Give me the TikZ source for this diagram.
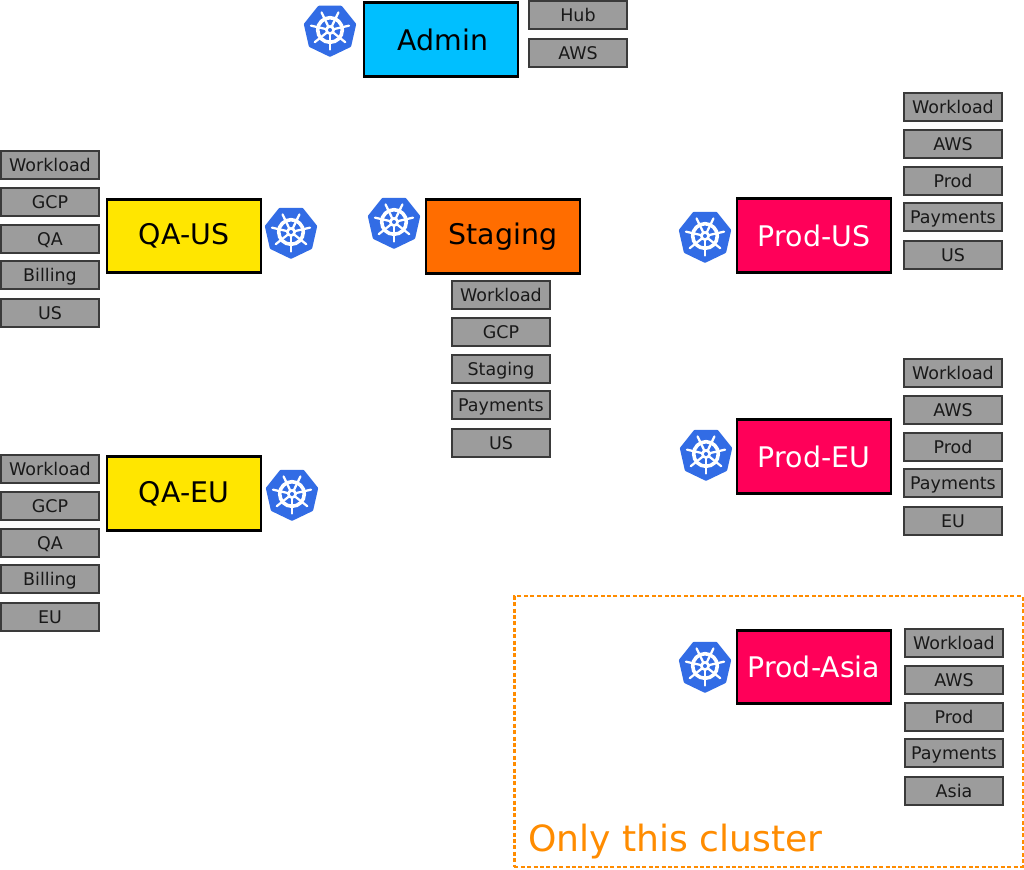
\documentclass[tikz,border=0pt]{standalone}
\usepackage{fontspec}
\setmainfont{DejaVu Sans}
\definecolor{kblue}{HTML}{326CE5}
\definecolor{cadmin}{HTML}{00BFFF}
\definecolor{cqa}{HTML}{FFE600}
\definecolor{cstg}{HTML}{FF6D00}
\definecolor{cprod}{HTML}{FF0059}
\definecolor{ctag}{HTML}{9C9C9C}
\definecolor{ctagb}{HTML}{3A3A3A}
\definecolor{cdash}{HTML}{FF8C00}
\newcommand{\helm}[3]{%
\begin{scope}[shift={(#1,#2)}]
\fill[kblue,draw=kblue,line width=2.6pt,line join=round]
 (90:25) -- (141.4:25) -- (192.9:25) -- (244.3:25) -- (295.7:25) -- (347.1:25) -- (38.6:25) -- cycle;
\draw[white,line width=2.7pt] (0,0) circle[radius=12.3];
\foreach \a in {90,141.4,192.9,244.3,295.7,347.1,38.6}{
 \draw[white,line width=1.7pt,line cap=round] (\a:3) -- (\a:19.5);
}
\fill[white] (0,0) circle[radius=5];
\fill[kblue] (0,0) circle[radius=2];
\coordinate (#3) at (0,0);
\end{scope}}
\tikzset{
 x=0.75pt,y=-0.75pt,
 bigbox/.style={draw=black,line width=2.1pt,minimum width=115.6pt,minimum height=55.2pt,inner sep=0pt,font=\fontsize{21.3pt}{25pt}\selectfont},
 tagbox/.style={draw=ctagb,fill=ctag,line width=1pt,minimum width=73.5pt,minimum height=21pt,inner sep=0pt,text=black!90,font=\fontsize{13.1pt}{16pt}\selectfont,text height=10pt,text depth=0.6pt},
}
\newcommand{\tags}[7]{%
\node[tagbox] (#1a) at (#2,#3) {Workload};
\node[tagbox] (#1b) at (#2,#3+37) {#4};
\node[tagbox] (#1c) at (#2,#3+74) {#5};
\node[tagbox] (#1d) at (#2,#3+110) {#6};
\node[tagbox] (#1e) at (#2,#3+148) {#7};}
\begin{document}
\begin{tikzpicture}
\useasboundingbox (0,0) rectangle (1024,869);
\fill[white] (0,0) rectangle (1024,869);
\node[draw=cdash,line width=1.7pt,dash pattern=on 3pt off 1.8pt,minimum width=381.2pt,minimum height=202.8pt,inner sep=0pt] (scopebox) at (768.5,731.5) {};
\node[text=cdash,anchor=base west,inner sep=0pt,font=\fontsize{27.1pt}{33pt}\selectfont] (scopelabel) at (528,851) {Only this cluster};

\node[bigbox,fill=cadmin,text=black] (admin) at (441,39.5) {\hspace*{2.6pt}Admin};
\node[bigbox,fill=cqa,text=black] (qaus) at (184,236) {QA-US};
\node[bigbox,fill=cqa,text=black] (qaeu) at (184,493.5) {QA-EU};
\node[bigbox,fill=cstg,text=black] (stg) at (503,236.5) {Staging};
\node[bigbox,fill=cprod,text=white] (produs) at (814,235.5) {Prod-US};
\node[bigbox,fill=cprod,text=white] (prodeu) at (814,456.5) {Prod-EU};
\node[bigbox,fill=cprod,text=white] (prodasia) at (814,667) {Prod-Asia};

\helm{330}{30}{h1}
\helm{291}{232}{h2}
\helm{292}{494}{h3}
\helm{394}{222}{h4}
\helm{705}{236}{h5}
\helm{706}{454}{h6}
\helm{705}{666}{h7}

\node[tagbox] (hub) at (578,15) {Hub};
\node[tagbox] (aws) at (578,53) {AWS};
\tags{qu}{50}{165}{GCP}{QA}{Billing}{US}
\tags{qe}{50}{469}{GCP}{QA}{Billing}{EU}
\tags{st}{501}{295}{GCP}{Staging}{Payments}{US}
\tags{pu}{953}{107}{AWS}{Prod}{Payments}{US}
\tags{pe}{953}{373}{AWS}{Prod}{Payments}{EU}
\tags{pa}{954}{643}{AWS}{Prod}{Payments}{Asia}
\end{tikzpicture}
\end{document}
